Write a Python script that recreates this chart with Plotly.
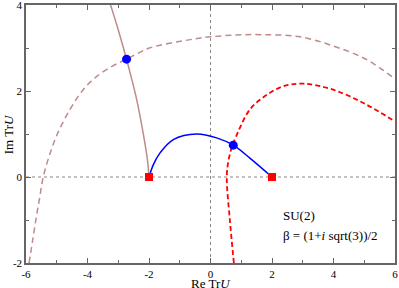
import plotly.graph_objects as go

# Brown solid curve
brown_solid_x = [-2.00, -2.05, -2.19, -2.40, -2.57, -2.73, -2.97, -3.13, -3.25]
brown_solid_y = [0.00, 0.40, 1.02, 1.80, 2.30, 2.74, 3.35, 3.73, 4.00]

# Brown dashed curve
brown_dash_x = [-5.90, -5.79, -5.68, -5.56, -5.44, -5.24, -4.98, -4.57, -4.14, -3.70, -3.16, -2.73, -2.35, -1.99, -0.53, 0.00, 0.80, 1.72, 2.91, 3.98, 5.08, 6.00]
brown_dash_y = [-2.00, -1.50, -1.00, -0.50, 0.00, 0.50, 1.00, 1.57, 2.03, 2.34, 2.59, 2.74, 2.88, 3.00, 3.21, 3.26, 3.30, 3.31, 3.26, 3.05, 2.73, 2.28]

# Red dashed curve
red_dash_x = [0.76, 0.63, 0.53, 0.59, 0.72, 0.83, 1.28, 1.83, 2.37, 3.02, 3.99, 5.08, 6.00]
red_dash_y = [-2.00, -1.00, 0.00, 0.40, 0.75, 0.94, 1.57, 1.91, 2.11, 2.17, 2.03, 1.68, 1.29]

# Blue solid curve
blue_x = [-2.00, -1.85, -1.64, -1.21, -0.45, 0.20, 0.74, 1.28, 2.00]
blue_y = [0.00, 0.30, 0.56, 0.87, 1.00, 0.91, 0.74, 0.44, 0.00]

# Markers
circle_x = [-2.73, 0.74]
circle_y = [2.74, 0.74]
square_x = [-2.0, 2.0]
square_y = [0.0, 0.0]

x_ticks = [-6, -4, -2, 0, 2, 4, 6]
y_ticks = [-2, 0, 2, 4]

brown = "#bf8a8a"
font_family = "Liberation Serif, Times New Roman, serif"

fig = go.Figure()
fig.add_trace(go.Scatter(x=brown_dash_x, y=brown_dash_y, mode="lines", line=dict(color=brown, width=1.5, dash="6px,4px", shape="spline"), hoverinfo="skip"))
fig.add_trace(go.Scatter(x=brown_solid_x, y=brown_solid_y, mode="lines", line=dict(color=brown, width=1.5, shape="spline"), hoverinfo="skip"))
fig.add_trace(go.Scatter(x=red_dash_x, y=red_dash_y, mode="lines", line=dict(color="#ff0000", width=1.8, dash="5px,3px", shape="spline"), hoverinfo="skip"))
fig.add_trace(go.Scatter(x=blue_x, y=blue_y, mode="lines", line=dict(color="#0000ff", width=1.5, shape="spline"), hoverinfo="skip"))
fig.add_trace(go.Scatter(x=circle_x, y=circle_y, mode="markers", marker=dict(color="#0000ff", size=9, symbol="circle"), hoverinfo="skip"))
fig.add_trace(go.Scatter(x=square_x, y=square_y, mode="markers", marker=dict(color="#ff0000", size=8, symbol="square"), hoverinfo="skip"))

fig.add_shape(type="line", x0=0, x1=0, y0=-2, y1=4, line=dict(color="#888888", width=1, dash="dot"), layer="below")
fig.add_shape(type="line", x0=-6, x1=6, y0=0, y1=0, line=dict(color="#888888", width=1, dash="dot"), layer="below")

fig.add_annotation(x=2.29, y=-0.9, text="SU(2)", showarrow=False, xanchor="left", yanchor="middle",
                   font=dict(family=font_family, size=13, color="black"))
fig.add_annotation(x=2.29, y=-1.37, text="β = (1+<i>i</i> sqrt(3))/2", showarrow=False, xanchor="left", yanchor="middle",
                   font=dict(family=font_family, size=13, color="black"))

# axis titles as paper annotations
fig.add_annotation(xref="paper", yref="paper", x=0.5, y=-0.08, text="Re Tr<i>U</i>", showarrow=False,
                   xanchor="center", yanchor="middle", font=dict(family=font_family, size=13, color="black"))
fig.add_annotation(xref="paper", yref="paper", x=-0.048, y=0.5, text="Im Tr<i>U</i>", showarrow=False, textangle=-90,
                   xanchor="center", yanchor="middle", font=dict(family=font_family, size=13, color="black"))

axis_common = dict(showgrid=False, zeroline=False, showline=True, linecolor="#666666", linewidth=1.5,
                   ticks="inside", ticklen=5, tickcolor="#666666", tickwidth=1, mirror="allticks",
                   automargin=False, ticklabeloverflow="allow",
                   tickfont=dict(family=font_family, size=11, color="black"),
                   minor=dict(ticks="inside", ticklen=3, tickcolor="#666666", dtick=1))

fig.update_xaxes(range=[-6, 6], tickvals=x_ticks, ticktext=[str(v) for v in x_ticks], **axis_common)
fig.update_yaxes(range=[-2, 4], tickvals=y_ticks, ticktext=[str(v) for v in y_ticks], **axis_common)

fig.update_layout(width=399, height=288, margin=dict(l=26, r=4, t=5, b=25),
                  plot_bgcolor="white", paper_bgcolor="white", showlegend=False)

fig.write_html("out.html", config={"displayModeBar": False})

# remove default body margin so the figure sits at the page's top-left corner
with open("out.html", "r", encoding="utf-8") as f:
    html = f.read()
html = html.replace("<body>", '<body style="margin:0;overflow:hidden">', 1)
with open("out.html", "w", encoding="utf-8") as f:
    f.write(html)
